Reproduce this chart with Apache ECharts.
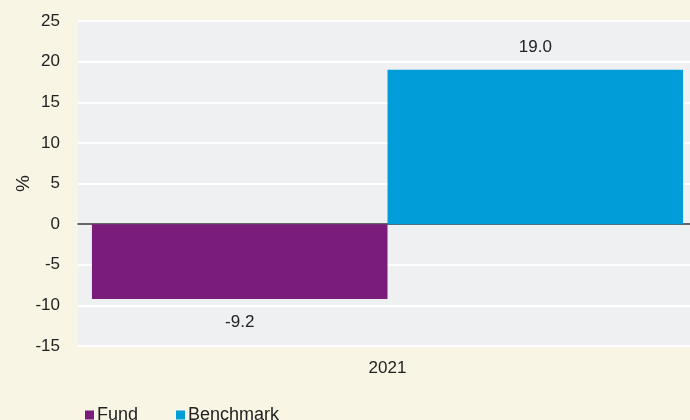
<!DOCTYPE html>
<html>
<head>
<meta charset="utf-8">
<script src="https://cdn.jsdelivr.net/npm/echarts@6/dist/echarts.min.js"></script>
<style>html,body{margin:0;padding:0;background:#F8F5E4;}#c{width:690px;height:420px;}</style>
</head>
<body>
<div id="c"></div>
<script>
var categories = ['2021'];
var fundValues = [-9.2];
var benchmarkValues = [19.0];
var seriesNames = ['Fund', 'Benchmark'];

var chart = echarts.init(document.getElementById('c'), null, {renderer: 'canvas'});
var font = 'Liberation Sans, Arial, Helvetica, sans-serif';
chart.setOption({
  backgroundColor: '#F8F5E4',
  textStyle: {fontFamily: font},
  grid: {left: 78, width: 619, top: 21, bottom: 74, show: true, backgroundColor: '#EFF0F2', borderWidth: 0, containLabel: false, outerBoundsMode: 'none'},
  legend: {
    data: seriesNames, left: 80, top: 401, itemWidth: 9, itemHeight: 9, itemGap: 38, icon: 'rect',
    textStyle: {fontSize: 18, color: '#222', fontFamily: font, padding: [0,0,0,-2]}
  },
  xAxis: {
    type: 'category', data: categories,
    axisLine: {show: true, onZero: true, lineStyle: {color: '#333', width: 1.5}},
    axisTick: {show: false},
    axisLabel: {fontSize: 17, color: '#222', margin: 14, fontFamily: font},
    splitLine: {show: false}
  },
  yAxis: {
    type: 'value', min: -15, max: 25, interval: 5,
    name: '%', nameLocation: 'middle', nameRotate: 90, nameGap: 45, nameMoveOverlap: false,
    nameTextStyle: {fontSize: 19, color: '#222', fontFamily: font},
    axisLine: {show: false}, axisTick: {show: false},
    axisLabel: {fontSize: 17, color: '#222', margin: 18, fontFamily: font},
    splitLine: {show: true, lineStyle: {color: '#FFFFFF', width: 2}}
  },
  series: [
    {name: 'Fund', type: 'bar', data: fundValues, barGap: '0%', barCategoryGap: '4.5%',
     itemStyle: {color: '#7A1C79'},
     label: {show: true, position: 'bottom', distance: 15, fontSize: 17, color: '#222', fontFamily: font, formatter: function(p){return p.value.toFixed(1);}}},
    {name: 'Benchmark', type: 'bar', data: benchmarkValues, barGap: '0%', barCategoryGap: '4.5%',
     itemStyle: {color: '#009DD9'},
     label: {show: true, position: 'top', distance: 14, fontSize: 17, color: '#222', fontFamily: font, formatter: function(p){return p.value.toFixed(1);}}}
  ]
});
</script>
</body>
</html>
